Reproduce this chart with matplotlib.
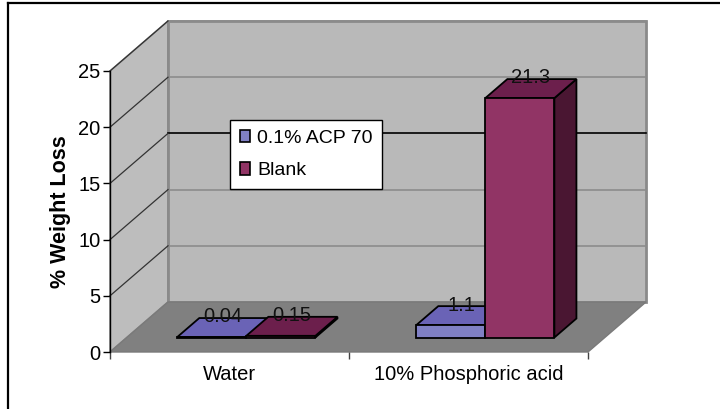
import matplotlib
matplotlib.use("Agg")
import matplotlib.pyplot as plt
from matplotlib.patches import Polygon, Patch
from matplotlib.lines import Line2D

plt.rcParams['font.family'] = ['Liberation Sans', 'DejaVu Sans']

categories = ["Water", "10% Phosphoric acid"]
series_names = ["0.1% ACP 70", "Blank"]
acp_values = [0.04, 1.1]
blank_values = [0.15, 21.3]
label_texts_acp = ["0.04", "1.1"]
label_texts_blank = ["0.15", "21.3"]
yticks = [0, 5, 10, 15, 20, 25]

front_cols = ["#8080c4", "#913465"]
top_cols = ["#6a63b6", "#6c1f4c"]
side_cols = ["#5a52a0", "#4a1632"]

FS = 14.5

W, H = 720, 409
fig = plt.figure(figsize=(W / 100, H / 100), dpi=100)

# front plane of the 3-D box in pixels
left_px, right_px = 110, 588
zero_px, top_px = 352, 71
ax = fig.add_axes([left_px / W, (H - zero_px) / H, (right_px - left_px) / W, (zero_px - top_px) / H])
ax.set_xlim(-0.5, 1.5)
ax.set_ylim(0, 25)
ax.patch.set_visible(False)

# depth vector (data units) for full depth
px_per_x = (right_px - left_px) / 2.0
px_per_y = (zero_px - top_px) / 25.0
DX = 58 / px_per_x
DY = 50 / px_per_y

def P(x, y, d):
    return (x + DX * d, y + DY * d)

# walls
side_wall = Polygon([P(-0.5, 0, 0), P(-0.5, 0, 1), P(-0.5, 25, 1), P(-0.5, 25, 0)],
                    closed=True, fc="#bdbdbd", ec="#8a8a8a", lw=1.2, clip_on=False, zorder=1)
back_wall = Polygon([P(-0.5, 0, 1), P(1.5, 0, 1), P(1.5, 25, 1), P(-0.5, 25, 1)],
                    closed=True, fc="#b9b9b9", ec="#8a8a8a", lw=2.0, clip_on=False, zorder=1)
floor = Polygon([P(-0.5, 0, 0), P(1.5, 0, 0), P(1.5, 0, 1), P(-0.5, 0, 1)],
                closed=True, fc="#808080", ec="#7a7a7a", lw=1.0, clip_on=False, zorder=1)
for p in (side_wall, back_wall, floor):
    ax.add_patch(p)

for v in yticks[1:]:
    col = "black" if v == 15 else "#8c8c8c"
    xs, ys = zip(P(-0.5, v, 1), P(1.5, v, 1))
    ax.plot(xs, ys, color=col, lw=1.2, clip_on=False, zorder=2)
    xs, ys = zip(P(-0.5, v, 0), P(-0.5, v, 1))
    ax.plot(xs, ys, color="#333333", lw=0.9, clip_on=False, zorder=2)

# bars
bw = 0.289
d0, d1 = 0.29, 0.67

def bar3d(xl, v, k):
    xr = xl + bw
    side = Polygon([P(xr, 0, d0), P(xr, v, d0), P(xr, v, d1), P(xr, 0, d1)],
                   closed=True, fc=side_cols[k], ec="black", lw=1.3, clip_on=False, zorder=3)
    top = Polygon([P(xl, v, d0), P(xr, v, d0), P(xr, v, d1), P(xl, v, d1)],
                  closed=True, fc=top_cols[k], ec="black", lw=1.3, clip_on=False, zorder=3)
    front = Polygon([P(xl, 0, d0), P(xr, 0, d0), P(xr, v, d0), P(xl, v, d0)],
                    closed=True, fc=front_cols[k], ec="black", lw=1.3, clip_on=False, zorder=3)
    for p in (side, top, front):
        ax.add_patch(p)

for i in range(len(categories)):
    bar3d(i - bw, acp_values[i], 0)
    bar3d(i, blank_values[i], 1)

dm = (d0 + d1) / 2
for i in range(len(categories)):
    for k, (vals, labs) in enumerate([(acp_values, label_texts_acp), (blank_values, label_texts_blank)]):
        xc = i - bw + k * bw + bw / 2
        x, y = P(xc, vals[i], dm)
        ax.text(x, y + 0.1, labs[i], ha="center", va="bottom", fontsize=FS,
                color="#111111", zorder=5)

# axes styling
for s in ["top", "right", "bottom"]:
    ax.spines[s].set_visible(False)
ax.spines["left"].set_color("black")
ax.spines["left"].set_linewidth(1.0)
ax.set_yticks(yticks)
ax.tick_params(axis="y", direction="out", length=5, width=1, labelsize=FS, pad=2)
ax.set_xticks([-0.5, 0.5, 1.5])
ax.set_xticklabels(["", "", ""])
ax.tick_params(axis="x", which="major", direction="out", length=5, width=1, color="#444444")
ax.set_xticks([0, 1], minor=True)
ax.set_xticklabels(categories, minor=True)
ax.tick_params(axis="x", which="minor", length=0, labelsize=FS, pad=9)
ax.set_ylabel("% Weight Loss", fontsize=15.5, fontweight="bold", labelpad=5)

# legend
handles = [Patch(fc=front_cols[0], ec="black", lw=1.2), Patch(fc=front_cols[1], ec="black", lw=1.2)]
leg = fig.legend(handles, series_names, loc="upper left",
                 bbox_to_anchor=(230 / W, 1 - 120 / H), fontsize=14,
                 handlelength=0.55, handleheight=0.6, handletextpad=0.35,
                 borderpad=0.5, labelspacing=0.8, borderaxespad=0,
                 fancybox=False, framealpha=1, edgecolor="black")
leg.get_frame().set_linewidth(1.0)
leg.set_zorder(10)

# outer frame (left and top)
fig.add_artist(Line2D([7.5 / W, 7.5 / W], [0, 1 - 3 / H], color="black", lw=1.6))
fig.add_artist(Line2D([7.5 / W, 1], [1 - 3 / H, 1 - 3 / H], color="black", lw=1.6))

fig.savefig("out.png", dpi=100, facecolor="white")
